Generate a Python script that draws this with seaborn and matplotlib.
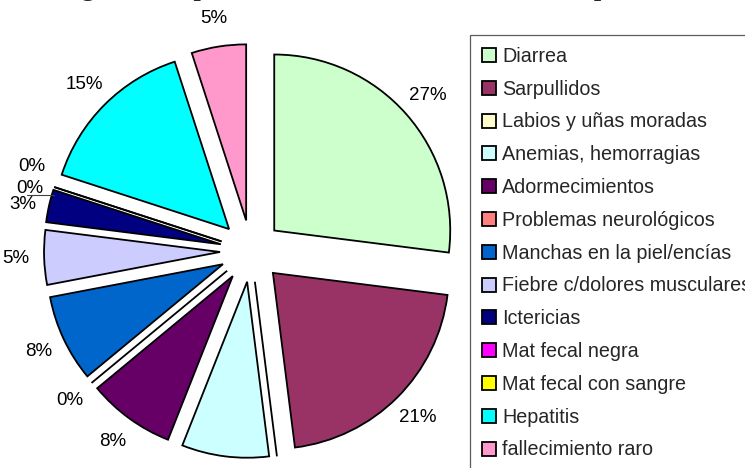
import numpy as np
import matplotlib
matplotlib.use("Agg")
import matplotlib.pyplot as plt
import seaborn as sns

# ── Datos ─────────────────────────────────────────────────
categorias = [
    "Diarrea", "Sarpullidos", "Labios y uñas moradas", "Anemias, hemorragias",
    "Adormecimientos", "Problemas neurológicos", "Manchas en la piel/encías",
    "Fiebre c/dolores musculares", "Ictericias", "Mat fecal negra",
    "Mat fecal con sangre", "Hepatitis", "fallecimiento raro",
]
porcentajes = [27, 21, 0, 8, 8, 0, 8, 5, 3, 0, 0, 15, 5]
colores = [
    "#CCFFCC", "#993366", "#FFFFCC", "#CCFFFF", "#660066", "#FF8080",
    "#0066CC", "#CCCCFF", "#000080", "#FF00FF", "#FFFF00", "#00FFFF", "#FF99CC",
]
titulo = "Figura 3: Tipo de enfermedades narradas en la parte de"

sns.set_theme(style="white")
plt.rcParams["font.family"] = ["Liberation Sans", "DejaVu Sans"]

W, H = 745, 468
R_PX = 176.0           # radio del pastel en píxeles
CX, CY = 251.0, 251.0  # centro (desde arriba a la izquierda)

fig = plt.figure(figsize=(W / 100, H / 100), dpi=100)
ax = fig.add_axes([0, 0, 1, 1])

wedges, textos, pcts = ax.pie(
    porcentajes,
    colors=colores,
    startangle=90,
    counterclock=False,
    explode=[0.176] * len(porcentajes),
    autopct=lambda p: f"{p:.0f}%",
    pctdistance=1.16,
    wedgeprops=dict(edgecolor="black", linewidth=1.3),
    textprops=dict(fontsize=13.5, color="black"),
)

# separar las etiquetas superpuestas (0%, 0%, 3%)
px = 1 / R_PX
def mover(t, dx, dy):
    x, y = t.get_position()
    t.set_position((x + dx * px, y + dy * px))

mover(pcts[9], 4, 12)
mover(pcts[10], 2, -10)
mover(pcts[8], 1, -5)
mover(pcts[3], -6, 4)

# línea guía de la etiqueta desplazada
w = wedges[10]
ang = np.deg2rad(w.theta1)
tip = (w.center[0] + w.r * np.cos(ang), w.center[1] + w.r * np.sin(ang))
lx, ly = pcts[10].get_position()
ax.plot([lx - 2 * px, tip[0]], [ly - 7 * px, ly - 7 * px], color="#404040", lw=0.8)

ax.set_xlim(-CX / R_PX, (W - CX) / R_PX)
ax.set_ylim(-(H - CY) / R_PX, CY / R_PX)
ax.set_aspect("equal")
ax.axis("off")

leg = ax.legend(
    wedges, categorias,
    loc="upper left",
    bbox_to_anchor=(470 / W, 1 - 35 / H),
    bbox_transform=fig.transFigure,
    frameon=True, fancybox=False, edgecolor="#333333",
    borderpad=0.6, borderaxespad=0, labelspacing=0.7,
    handlelength=0.72, handleheight=0.72, handletextpad=0.3,
    prop=dict(size=14.2),
)
leg.get_frame().set_linewidth(0.9)

fig.text(0.5, 1 + 4 / H, titulo, ha="center", va="baseline",
         fontsize=19, fontweight="bold", family=["Liberation Serif", "DejaVu Serif"])

fig.savefig("out.png", dpi=100)
